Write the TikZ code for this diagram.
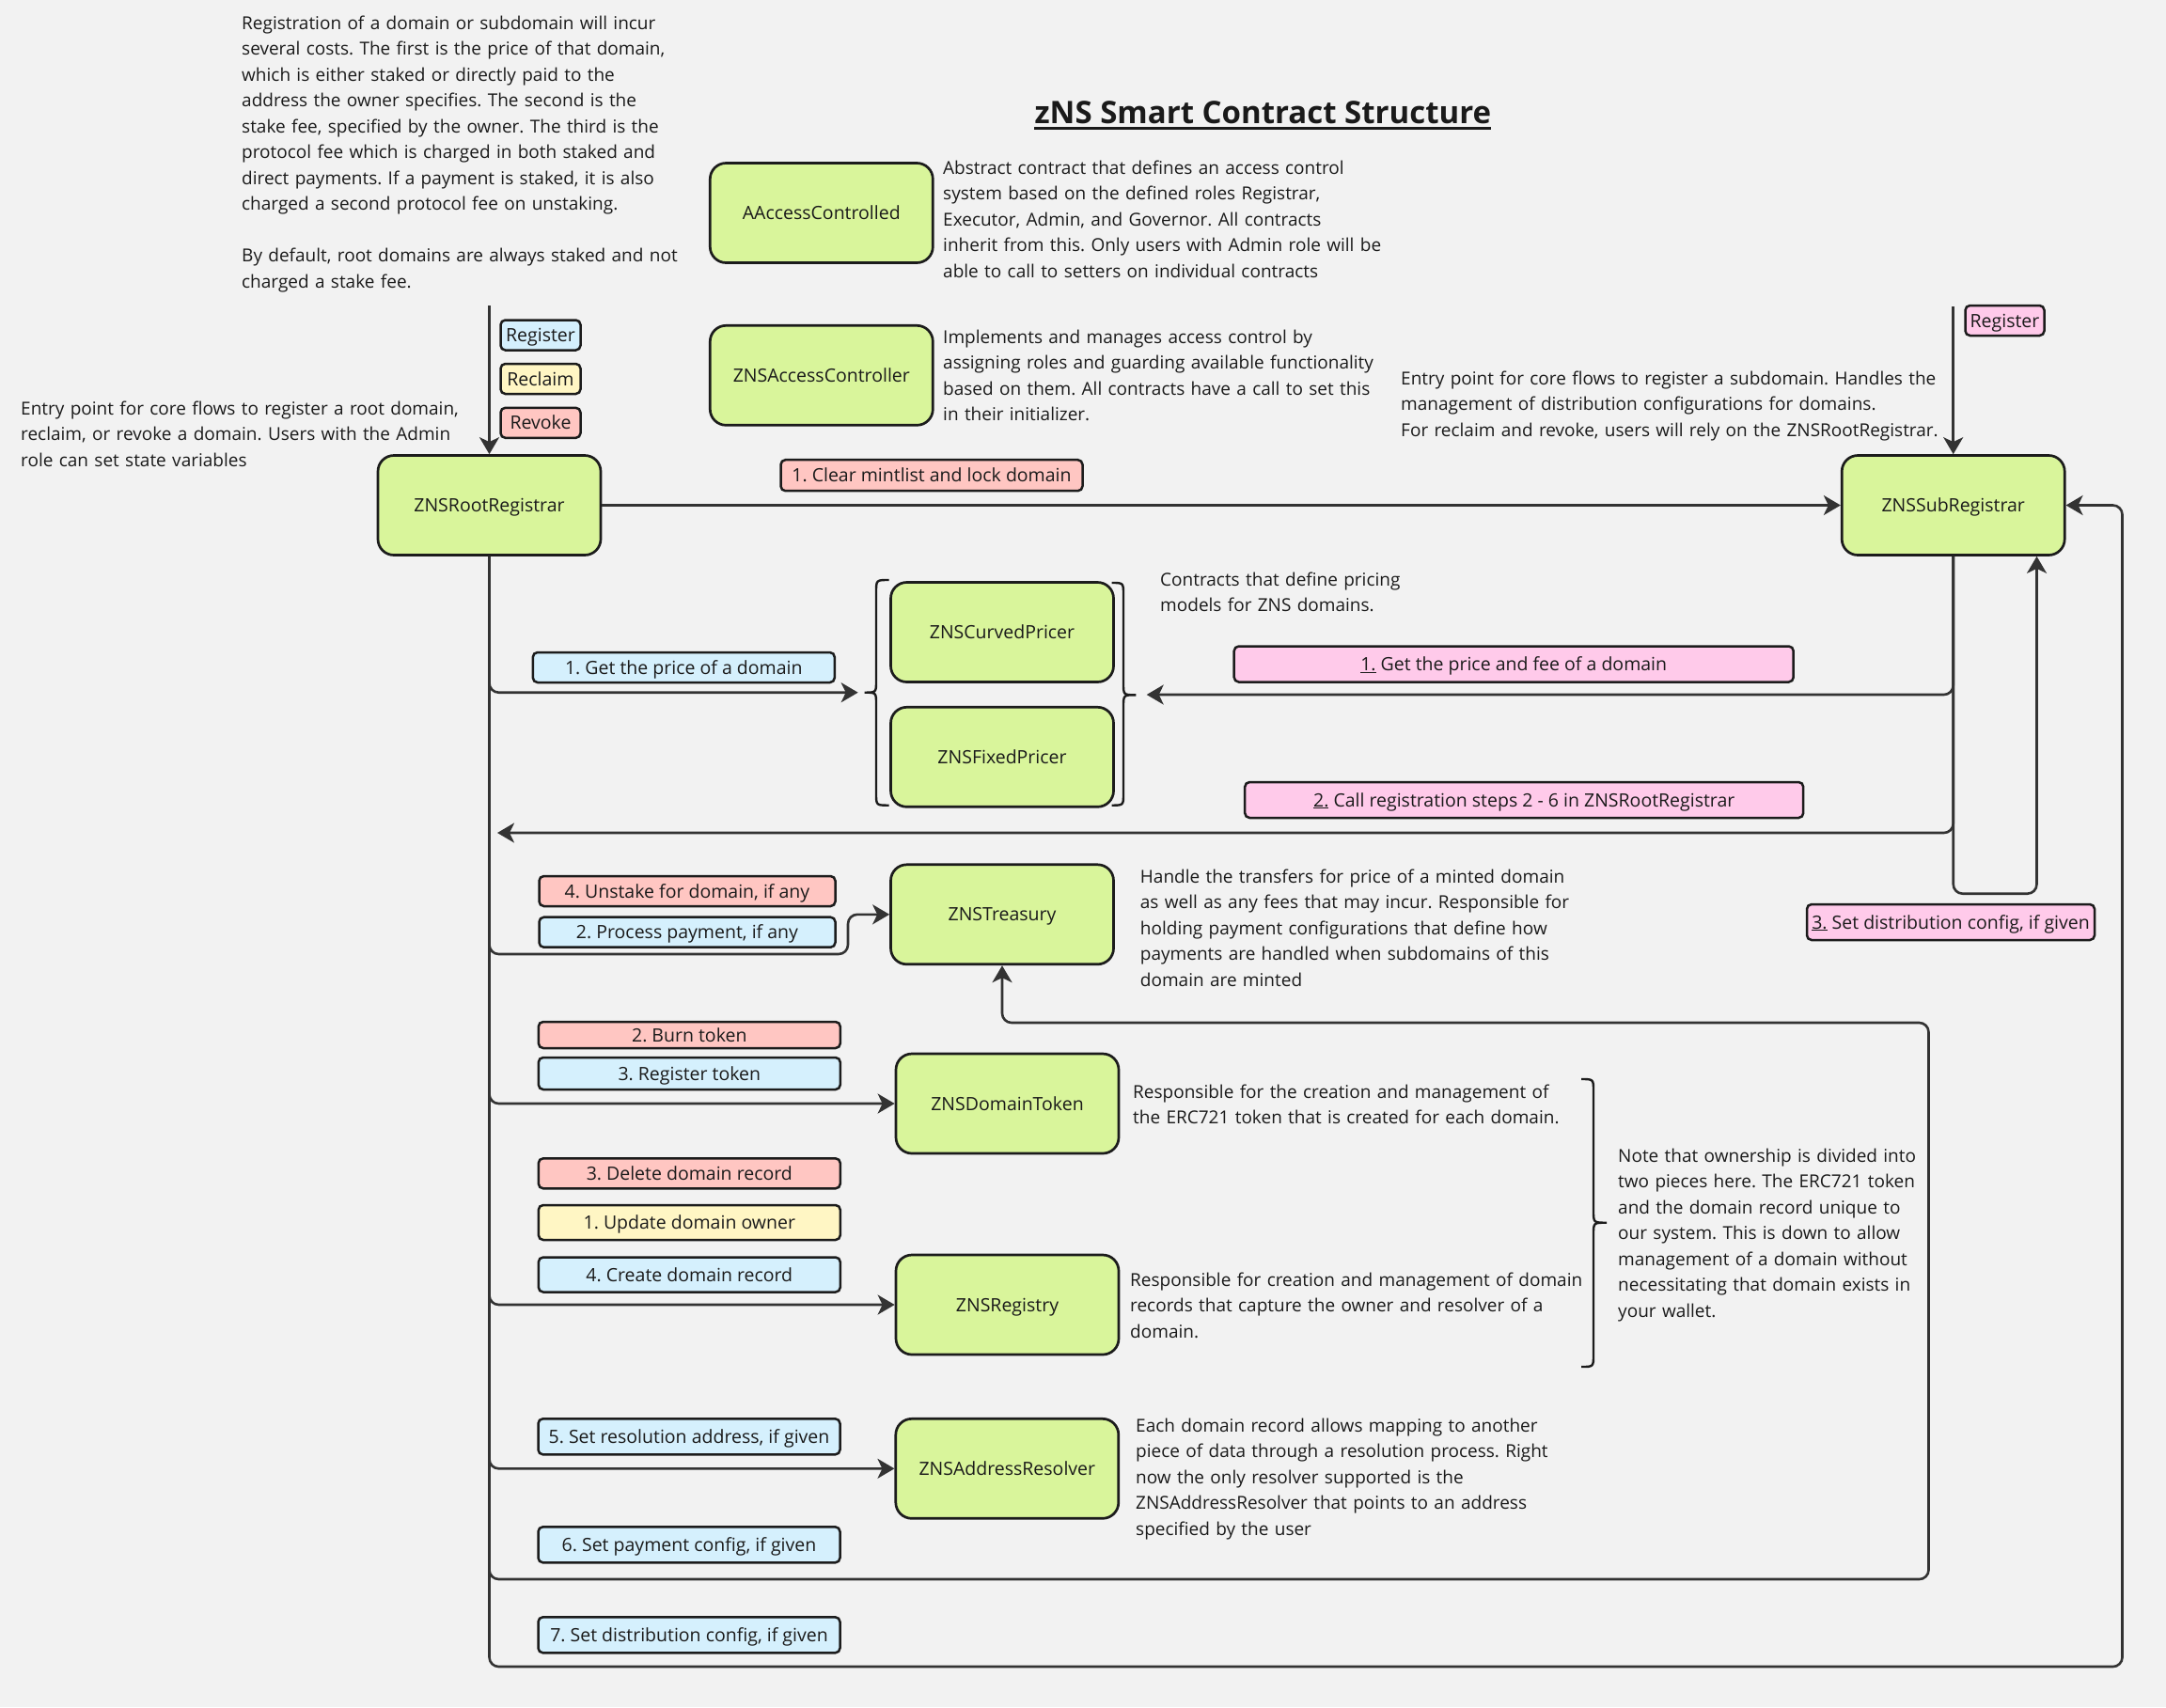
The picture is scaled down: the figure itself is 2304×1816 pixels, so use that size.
\documentclass[tikz,border=0pt]{standalone}
\usepackage{fontspec}
\setmainfont{Open Sans}
\usetikzlibrary{arrows.meta}
\setlength{\parindent}{0pt}
\frenchspacing
\definecolor{bgc}{HTML}{F2F2F2}
\definecolor{boxgreen}{HTML}{D9F59B}
\definecolor{tblue}{HTML}{D5F0FD}
\definecolor{tyellow}{HTML}{FFF6C4}
\definecolor{tred}{HTML}{FFC6C2}
\definecolor{tpink}{HTML}{FFCAEA}
\definecolor{linecol}{HTML}{333333}
\definecolor{bordercol}{HTML}{1C1C1C}
\definecolor{textcol}{HTML}{1A1A1A}
\newcommand{\fl}{\rule{0pt}{16pt}}
\tikzset{
  box/.style={draw=bordercol, line width=2.7pt, fill=boxgreen, rounded corners=17pt,
    minimum width=237pt, minimum height=106pt, inner sep=0pt, text height=14pt, text depth=0pt,
    font=\fontsize{19.5}{24}\selectfont\frenchspacing, text=textcol},
  tag/.style={draw=bordercol, line width=2.5pt, rounded corners=5pt, inner sep=0pt,
    text height=14pt, text depth=0pt,
    font=\fontsize{19.5}{24}\selectfont\frenchspacing, text=textcol},
  desc/.style={anchor=north west, inner sep=0pt, text width=900pt, align=left,
    font=\fontsize{19}{27.5}\selectfont\frenchspacing, text=textcol},
  conn/.style={draw=linecol, line width=2.6pt, rounded corners=10pt},
  arr/.style={conn, -{Stealth[length=18pt, width=21pt, inset=5pt]}},
  bracecurve/.style={draw=bordercol, line width=2.4pt},
}
\begin{document}
\begin{tikzpicture}[x=1pt,y=-1pt]
\fill[bgc] (0,0) rectangle (2304,1816);
\useasboundingbox (0,0) rectangle (2304,1816);

% title
\node[inner sep=0pt, anchor=base, font=\fontsize{33}{38}\selectfont\bfseries, text=textcol] (title) at (1343.4,131.7) {zNS Smart Contract Structure};
\draw[line width=3.2pt, textcol] ([yshift=-4.5pt]title.base west) -- ([yshift=-4.5pt]title.base east);

% descriptions
\node[desc] (dTop) at (257,15) {\fl Registration of a domain or subdomain will incur\\
several costs. The first is the price of that domain,\\
which is either staked or directly paid to the\\
address the owner specifies. The second is the\\
stake fee, specified by the owner. The third is the\\
protocol fee which is charged in both staked and\\
direct payments. If a payment is staked, it is also\\
charged a second protocol fee on unstaking.\\[27.5pt]
By default, root domains are always staked and not\\
charged a stake fee.};

\node[desc] (dRoot) at (22,425) {\fl Entry point for core flows to register a root domain,\\
reclaim, or revoke a domain. Users with the Admin\\
role can set state variables};

\node[desc] (dAac) at (1003,169) {\fl Abstract contract that defines an access control\\
system based on the defined roles Registrar,\\
Executor, Admin, and Governor. All contracts\\
inherit from this. Only users with Admin role will be\\
able to call to setters on individual contracts};

\node[desc] (dZac) at (1003,349) {\fl Implements and manages access control by\\
assigning roles and guarding available functionality\\
based on them. All contracts have a call to set this\\
in their initializer.};

\node[desc] (dSub) at (1490,393) {\fl Entry point for core flows to register a subdomain. Handles the\\
management of distribution configurations for domains.\\
For reclaim and revoke, users will rely on the ZNSRootRegistrar.};

\node[desc] (dPrice) at (1234,607) {\fl Contracts that define pricing\\
models for ZNS domains.};

\node[desc] (dTreas) at (1212.7,923) {\fl Handle the transfers for price of a minted domain\\
as well as any fees that may incur. Responsible for\\
holding payment configurations that define how\\
payments are handled when subdomains of this\\
domain are minted};

\node[desc] (dToken) at (1205,1152) {\fl Responsible for the creation and management of\\
the ERC721 token that is created for each domain.};

\node[desc] (dReg) at (1202,1352) {\fl Responsible for creation and management of domain\\
records that capture the owner and resolver of a\\
domain.};

\node[desc] (dNote) at (1721,1220) {\fl Note that ownership is divided into\\
two pieces here. The ERC721 token\\
and the domain record unique to\\
our system. This is down to allow\\
management of a domain without\\
necessitating that domain exists in\\
your wallet.};

\node[desc] (dRes) at (1208,1507) {\fl Each domain record allows mapping to another\\
piece of data through a resolution process. Right\\
now the only resolver supported is the\\
ZNSAddressResolver that points to an address\\
specified by the user};

% boxes
\node[box] (root) at (520.5,537.5) {ZNSRootRegistrar};
\node[box] (sub) at (2077.7,537.5) {ZNSSubRegistrar};
\node[box] (aac) at (873.8,226.5) {AAccessControlled};
\node[box] (zac) at (873.8,399.3) {ZNSAccessController};
\node[box] (curved) at (1066,672.5) {ZNSCurvedPricer};
\node[box] (fixed) at (1066,805.3) {ZNSFixedPricer};
\node[box] (treasury) at (1066,972.8) {ZNSTreasury};
\node[box] (token) at (1071.5,1174) {ZNSDomainToken};
\node[box] (registry) at (1071.5,1388) {ZNSRegistry};
\node[box] (resolver) at (1071.3,1562.3) {ZNSAddressResolver};

% tags
\node[tag, fill=tblue, minimum width=85pt, minimum height=32pt] (tReg) at (575,356.5) {Register};
\node[tag, fill=tyellow, minimum width=85pt, minimum height=32pt] (tRec) at (575,403) {Reclaim};
\node[tag, fill=tred, minimum width=85pt, minimum height=32pt] (tRev) at (575,449.8) {Revoke};
\node[tag, fill=tred, minimum width=321pt, minimum height=33pt] (tClear) at (991,505.7) {1. Clear mintlist and lock domain};
\node[tag, fill=tpink, minimum width=84pt, minimum height=32pt] (tSubReg) at (2132.5,341) {Register};
\node[tag, fill=tblue, minimum width=321pt, minimum height=32pt] (tPrice) at (727.3,710) {1. Get the price of a domain};
\node[tag, fill=tpink, minimum width=595pt, minimum height=38pt] (tPinkPrice) at (1610.2,706.5) {\underline{1.} Get the price and fee of a domain};
\node[tag, fill=tpink, minimum width=594pt, minimum height=38pt] (tPinkCall) at (1621.2,851) {\underline{2.} Call registration steps 2 - 6 in ZNSRootRegistrar};
\node[tag, fill=tpink, minimum width=306pt, minimum height=38pt] (tPinkDist) at (2075,981) {\underline{3.} Set distribution config, if given};
\node[tag, fill=tred, minimum width=315pt, minimum height=32pt] (tUnstake) at (731,948) {4. Unstake for domain, if any};
\node[tag, fill=tblue, minimum width=315pt, minimum height=32pt] (tPay) at (731,991.7) {2. Process payment, if any};
\node[tag, fill=tred, minimum width=321pt, minimum height=28pt] (tBurn) at (733.3,1101) {2. Burn token};
\node[tag, fill=tblue, minimum width=321pt, minimum height=34pt] (tRegTok) at (733.3,1142) {3. Register token};
\node[tag, fill=tred, minimum width=321pt, minimum height=32pt] (tDel) at (733.3,1248.3) {3. Delete domain record};
\node[tag, fill=tyellow, minimum width=321pt, minimum height=37pt] (tUpd) at (733.3,1300.5) {1. Update domain owner};
\node[tag, fill=tblue, minimum width=321pt, minimum height=37pt] (tCreate) at (733.3,1356) {4. Create domain record};
\node[tag, fill=tblue, minimum width=321pt, minimum height=38pt] (tRes) at (733,1528.3) {5. Set resolution address, if given};
\node[tag, fill=tblue, minimum width=321pt, minimum height=38pt] (tPayCfg) at (733,1643.3) {6. Set payment config, if given};
\node[tag, fill=tblue, minimum width=321pt, minimum height=38pt] (tDist) at (733,1739.3) {7. Set distribution config, if given};

% braces
\draw[bracecurve] (945.5,617) .. controls (932,617) .. (932,630) -- (932,724) .. controls (932,736.7) .. (919.6,736.7) .. controls (932,736.7) .. (932,749) -- (932,844) .. controls (932,856.7) .. (945.5,856.7);
\draw[bracecurve] (1182.5,620) .. controls (1195,620) .. (1195,633) -- (1195,727) .. controls (1195,739.3) .. (1208.4,739.3) .. controls (1195,739.3) .. (1195,752) -- (1195,844) .. controls (1195,856.7) .. (1182.5,856.7);
\draw[bracecurve] (1682,1148) .. controls (1695,1148) .. (1695,1161) -- (1695,1288) .. controls (1695,1300.7) .. (1709,1300.7) .. controls (1695,1300.7) .. (1695,1313) -- (1695,1441) .. controls (1695,1454) .. (1682,1454);

% coordinates
\coordinate (inRoot) at (520.5,325);
\coordinate (inSub) at (2077.7,326);
\coordinate (trunkEnd) at (2257.5,1773);
\coordinate (bL) at (912.7,736.7);
\coordinate (bR) at (1219.7,739);
\coordinate (tR) at (529,886);
\coordinate (loopR) at (2166.5,950.7);
\coordinate (tCorner) at (902,1015);
\coordinate (loopA) at (2051.5,1680);
\coordinate (loopB) at (1066,1088);

% connectors
\draw[arr] (inRoot) -- (root.north);
\draw[arr] (inSub) -- (sub.north);
\draw[arr] (root.east) -- (sub.west);
\draw[arr] (root.south) |- (trunkEnd) |- (sub.east);
\draw[arr] (root.south) |- (bL);
\draw[arr] (root.south) |- (tCorner) |- (treasury.west);
\draw[arr] (root.south) |- (token.west);
\draw[arr] (root.south) |- (registry.west);
\draw[arr] (root.south) |- (resolver.west);
\draw[arr] (root.south) |- (loopA) |- (loopB) -- (treasury.south);
\draw[arr] (sub.south) |- (bR);
\draw[arr] (sub.south) |- (tR);
\draw[arr] (sub.south) |- (loopR) -- (loopR |- sub.south);
\end{tikzpicture}
\end{document}
